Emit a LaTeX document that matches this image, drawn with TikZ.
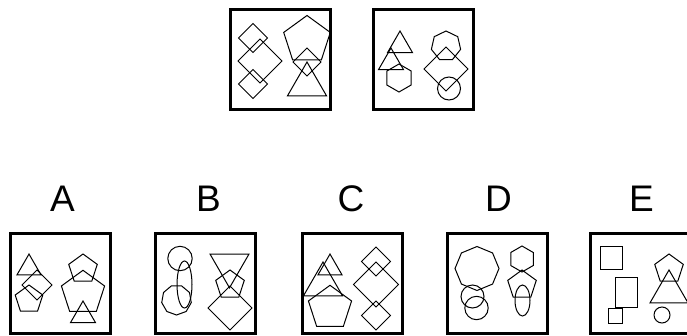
\documentclass[tikz,border=0pt]{standalone}
\usepackage{fontspec}
\setmainfont{Liberation Sans}
\usetikzlibrary{shapes.geometric}

\begin{document}
\begin{tikzpicture}[x=1pt, y=-1pt,
        panel/.style = {draw, line width=3pt, minimum width=100pt, minimum height=100pt, inner sep=0pt},
        fig/.style = {draw, line width=1pt, inner sep=0pt, outer sep=0pt},
        dia/.style = {fig, diamond, minimum width=#1, minimum height=#1},
        poly/.style = {fig, regular polygon, regular polygon sides=#1},
        ring/.style = {fig, circle},
        oval/.style = {fig, ellipse},
        box/.style = {fig, rectangle},
        letter/.style = {anchor=base, font=\fontsize{37}{37}\selectfont}]
                \useasboundingbox (0,0) rectangle (687,335);

                % question panels
                \node[panel] (q1) at (280.5,59) {};
                \node[panel] (q2) at (423.5,59) {};

                \node[dia=29pt] (q1a) at (253,38) {};
                \node[dia=44pt] (q1b) at (260,61) {};
                \node[dia=29pt] (q1c) at (253,84) {};
                \node[poly=5] (q1d) [minimum size=49pt] at (307,40) {};
                \node[dia=28pt] (q1e) at (307,62) {};
                \node[poly=3] (q1f) [minimum size=45pt] at (307,84.5) {};

                \node[poly=3] (q2a) [minimum size=28.8pt] at (400,45.4) {};
                \node[poly=3] (q2b) [minimum size=28.8pt] at (391,62.4) {};
                \node[poly=6] (q2c) [minimum size=28pt, rotate=30] at (399,78) {};
                \node[poly=7] (q2d) [minimum size=30pt] at (446,46) {};
                \node[dia=44pt] (q2e) at (446,69) {};
                \node[ring] (q2f) [minimum size=23pt] at (449,88.5) {};

                % answer panels
                \node[letter] (la) at (62.5,211.7) {A};
                \node[letter] (lb) at (208.5,211.7) {B};
                \node[letter] (lc) at (351,211.7) {C};
                \node[letter] (ld) at (498.5,211.7) {D};
                \node[letter] (le) at (641.5,211.7) {E};

                \node[panel] (pa) at (60,283.5) {};
                \node[panel] (pb) at (205,283.5) {};
                \node[panel] (pc) at (352,283.5) {};
                \node[panel] (pd) at (497,283.5) {};
                \node[panel] (pe) at (640.5,283.5) {};

                \node[poly=3] (a1) [minimum size=27.7pt] at (29,267.9) {};
                \node[dia=30pt] (a2) at (37,285) {};
                \node[poly=5] (a3) [minimum size=29pt] at (29,299.5) {};
                \node[poly=5] (a4) [minimum size=30pt] at (83,269) {};
                \node[poly=5] (a5) [minimum size=45.4pt] at (83,293) {};
                \node[poly=3] (a6) [minimum size=28.8pt] at (83,315.4) {};

                \node[ring] (b1) [minimum size=24.4pt] at (180,258.5) {};
                \node[oval] (b2) [minimum width=15pt, minimum height=47pt] at (184.5,284.5) {};
                \node[poly=9] (b3) [minimum size=30pt, rotate=180] at (176.5,300) {};
                \node[poly=3] (b4) [minimum size=45pt, rotate=180] at (229.5,265.3) {};
                \node[poly=5] (b5) [minimum size=30pt] at (230,285) {};
                \node[dia=44pt] (b6) at (230,308) {};

                \node[poly=3] (c1) [minimum size=27.7pt] at (330,267.9) {};
                \node[poly=3] (c2) [minimum size=45pt] at (323,284.5) {};
                \node[poly=5] (c3) [minimum size=45.4pt] at (330,308) {};
                \node[dia=29pt] (c4) at (376,261.5) {};
                \node[dia=45pt] (c5) at (376,284.5) {};
                \node[dia=29pt] (c6) at (376,315.5) {};

                \node[poly=8] (d1) [minimum size=44pt, rotate=22.5] at (477,268.5) {};
                \node[ring] (d2) [minimum size=23pt] at (472.5,296.5) {};
                \node[ring] (d3) [minimum size=23.4pt] at (476.5,308) {};
                \node[poly=6] (d4) [minimum size=26pt, rotate=30] at (522,259) {};
                \node[poly=5] (d5) [minimum size=30pt] at (522,285) {};
                \node[oval] (d6) [minimum width=15pt, minimum height=31pt] at (522.5,300.5) {};

                \node[box] (e1) [minimum width=22pt, minimum height=23pt] at (611,257.5) {};
                \node[box] (e2) [minimum width=22pt, minimum height=30pt] at (626,292) {};
                \node[box] (e3) [minimum width=14pt, minimum height=15pt] at (615,315.5) {};
                \node[poly=5] (e4) [minimum size=30pt] at (669,269) {};
                \node[poly=3] (e5) [minimum size=43.9pt] at (669,291.9) {};
                \node[ring] (e6) [minimum size=16pt] at (662,315) {};

            \end{tikzpicture}
\end{document}
